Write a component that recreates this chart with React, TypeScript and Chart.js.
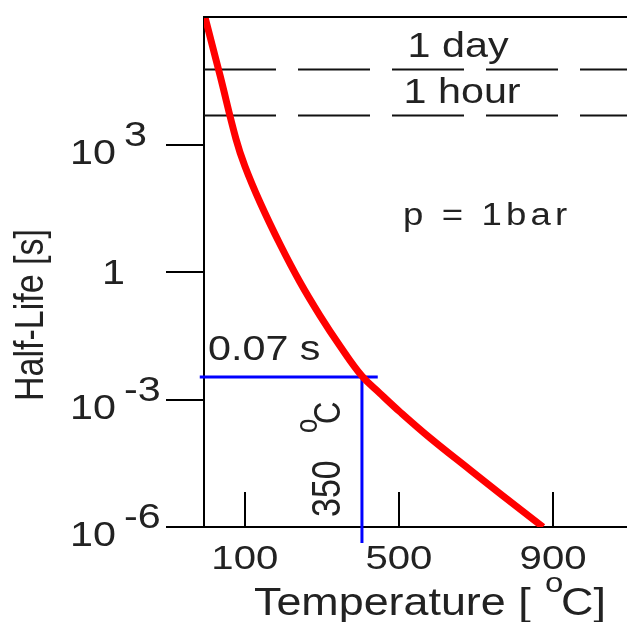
import React, { useEffect, useRef } from 'react';
import { Chart, registerables } from 'chart.js';

Chart.register(...registerables);

// ---- data ----
const temperatureC = [-3, 15, 36, 77, 100, 139, 191, 243, 295, 347, 404, 451, 503, 581, 685, 762, 874];
const halfLifeS = [
  9.6e5, 2.24e5, 4.1e4, 1.35e3, 312, 44.4, 4.56, 0.582, 0.0946, 0.0182, 3.57e-3, 1.39e-3, 5.08e-4, 1.24e-4, 2.19e-5,
  6.14e-6, 1.0e-6,
];

const dayHalfLife = 5.8e4;
const hourHalfLife = 4.8e3;
const markTemperature = 404;
const markHalfLife = 3.4e-3;
const markLineTemps = [-17, 445];
const markLineBottom = 4.2e-7;

const xTickValues = [100, 500, 900];
const xTickLabels = ['100', '500', '900'];
const yTickValues = [1e-6, 1e-3, 1, 1e3];
const yTickBase = ['10', '10', '1', '10'];
const yTickExp = ['-6', '-3', '', '3'];

const X_MIN = -6;
const X_MAX = 1092;
const Y_MIN = 1e-6;
const Y_MAX = 1e6;

const FONT = '"Liberation Sans", Arial, Helvetica, sans-serif';
const SX = 1.18;
const INK = '#222';

type TxtOpts = { align?: 'left' | 'center' | 'right'; rot?: boolean; spacing?: number };

function txt(ctx: CanvasRenderingContext2D, s: string, x: number, y: number, size: number, opts: TxtOpts = {}) {
  ctx.save();
  ctx.font = `${size}px ${FONT}`;
  ctx.fillStyle = INK;
  ctx.textBaseline = 'alphabetic';
  ctx.textAlign = 'left';
  if (opts.spacing) (ctx as any).letterSpacing = `${opts.spacing}px`;
  const w = ctx.measureText(s).width;
  ctx.translate(x, y);
  ctx.scale(SX, 1);
  if (opts.rot) ctx.rotate(-Math.PI / 2);
  let ox = 0;
  if (opts.align === 'center') ox = -w / 2;
  else if (opts.align === 'right') ox = -w;
  ctx.fillText(s, ox, 0);
  ctx.restore();
  return w;
}

const decor = {
  id: 'decor',
  afterDatasetsDraw(chart: any) {
    const ctx: CanvasRenderingContext2D = chart.ctx;
    const { left, right, top, bottom } = chart.chartArea;
    const xs = chart.scales.x;
    const ys = chart.scales.y;
    ctx.save();
    ctx.strokeStyle = '#000';
    ctx.lineWidth = 2;
    // top frame
    ctx.beginPath();
    ctx.moveTo(left, top);
    ctx.lineTo(right + 2, top);
    ctx.stroke();
    // inward x ticks
    xTickValues.forEach((v) => {
      const px = Math.round(xs.getPixelForValue(v));
      ctx.beginPath();
      ctx.moveTo(px, bottom);
      ctx.lineTo(px, bottom - 35);
      ctx.stroke();
    });
    ctx.restore();

    // x tick labels
    xTickValues.forEach((v, i) => {
      txt(ctx, xTickLabels[i], xs.getPixelForValue(v), 569, 34, { align: 'center' });
    });
    // y tick labels
    yTickValues.forEach((v, i) => {
      const py = ys.getPixelForValue(v);
      if (!yTickExp[i]) {
        txt(ctx, yTickBase[i], 125, py + 12, 35, { align: 'right' });
      } else {
        txt(ctx, yTickBase[i], 116, py + 19, 35, { align: 'right' });
        txt(ctx, yTickExp[i], 124, py + 1, 35);
      }
    });

    // axis titles
    txt(ctx, 'Temperature [', 254, 615, 38);
    txt(ctx, 'o', 545, 592, 28);
    txt(ctx, 'C]', 561, 615, 38);
    txt(ctx, 'Half-Life [s]', 43, 315, 34, { align: 'center', rot: true });

    // annotations
    txt(ctx, '1 day', 407.5, 57, 35);
    txt(ctx, '1 hour', 403.5, 103, 35);
    txt(ctx, 'p = 1bar', 403, 225, 31, { spacing: 3.5 });
    txt(ctx, '0.07 s', 208, 360, 35);
    txt(ctx, '350', 340, 517, 34, { rot: true });
    txt(ctx, 'o', 317, 433, 26, { rot: true });
    txt(ctx, 'C', 340, 424, 31, { rot: true });
  },
};

export default function App() {
  const ref = useRef<HTMLCanvasElement>(null);
  useEffect(() => {
    const canvas = ref.current;
    if (!canvas) return;
    const line = (x0: number, y0: number, x1: number, y1: number) => [
      { x: x0, y: y0 },
      { x: x1, y: y1 },
    ];
    const chart = new Chart(canvas, {
      type: 'line',
      data: {
        datasets: [
          {
            label: 'Half-life',
            data: temperatureC.map((t, i) => ({ x: t, y: halfLifeS[i] })),
            borderColor: '#ff0000',
            borderWidth: 7,
            pointRadius: 0,
            tension: 0.4,
            fill: false,
          },
          {
            label: 'marker h',
            data: line(markLineTemps[0], markHalfLife, markLineTemps[1], markHalfLife),
            borderColor: '#0000ff',
            borderWidth: 3,
            pointRadius: 0,
            clip: false,
          },
          {
            label: 'marker v',
            data: line(markTemperature, markHalfLife, markTemperature, markLineBottom),
            borderColor: '#0000ff',
            borderWidth: 3,
            pointRadius: 0,
            clip: false,
          },
          {
            label: '1 day',
            data: line(X_MIN, dayHalfLife, X_MAX, dayHalfLife),
            borderColor: '#111',
            borderWidth: 2,
            borderDash: [72, 22],
            pointRadius: 0,
          },
          {
            label: '1 hour',
            data: line(X_MIN, hourHalfLife, X_MAX, hourHalfLife),
            borderColor: '#111',
            borderWidth: 2,
            borderDash: [72, 22],
            pointRadius: 0,
          },
        ] as any,
      },
      options: {
        responsive: false,
        maintainAspectRatio: false,
        animation: false,
        events: [],
        layout: { padding: { top: 17, left: 0, right: 0, bottom: 0 } },
        plugins: {
          legend: { display: false },
          tooltip: { enabled: false },
          title: { display: false },
        },
        scales: {
          x: {
            type: 'linear',
            min: X_MIN,
            max: X_MAX,
            afterBuildTicks: (axis: any) => {
              axis.ticks = xTickValues.map((v) => ({ value: v }));
            },
            afterFit: (axis: any) => {
              axis.height = 95;
            },
            grid: { display: false },
            border: { display: true, color: '#000', width: 2 },
            ticks: { display: false },
          },
          y: {
            type: 'logarithmic',
            min: Y_MIN,
            max: Y_MAX,
            afterBuildTicks: (axis: any) => {
              axis.ticks = yTickValues.map((v) => ({ value: v }));
            },
            afterFit: (axis: any) => {
              axis.width = 204;
            },
            grid: {
              display: true,
              drawOnChartArea: false,
              drawTicks: true,
              tickLength: 38,
              color: '#000',
              lineWidth: 2,
            },
            border: { display: true, color: '#000', width: 2 },
            ticks: { display: false },
          },
        },
      } as any,
      plugins: [decor],
    });
    return () => chart.destroy();
  }, []);

  return (
    <div style={{ position: 'fixed', left: 0, top: 0, width: 627, height: 622, background: '#fff' }}>
      <canvas ref={ref} width={627} height={622} style={{ display: 'block', width: 627, height: 622 }} />
    </div>
  );
}
